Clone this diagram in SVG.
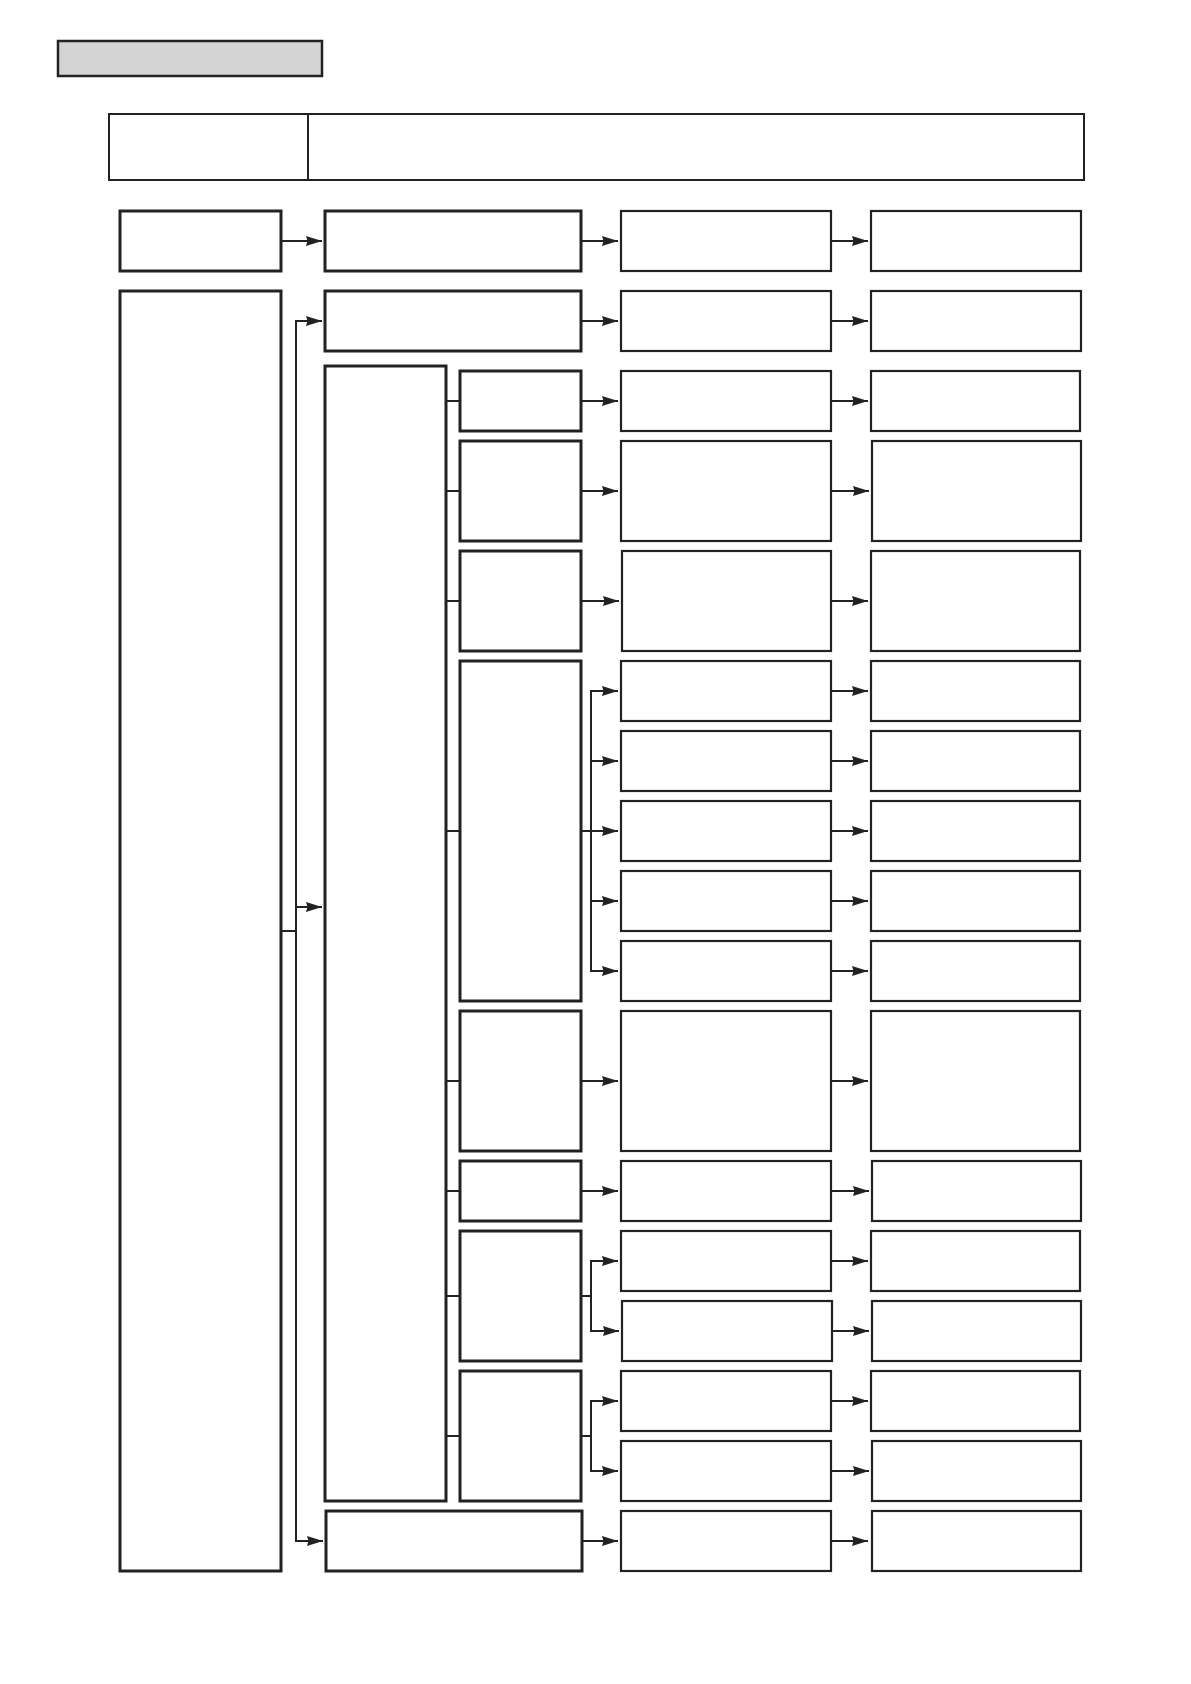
<svg xmlns="http://www.w3.org/2000/svg" width="1191" height="1684" viewBox="0 0 1191 1684">
<style>
.bg{fill:#ffffff}
.thick{fill:#ffffff;stroke:#222222;stroke-width:3}
.thin{fill:#ffffff;stroke:#222222;stroke-width:2.2}
.hdr{fill:#ffffff;stroke:#222222;stroke-width:2}
.tab{fill:#d4d4d4;stroke:#222222;stroke-width:2.5}
.ln{fill:none;stroke:#222222;stroke-width:2}
.ar{fill:none;stroke:#222222;stroke-width:2;marker-end:url(#ah)}
</style>
<defs>
<marker id="ah" markerUnits="userSpaceOnUse" markerWidth="17" markerHeight="11" refX="16" refY="5" orient="auto">
<path d="M0,0 L16,5 L0,10 L1.5,5 z" fill="#222222"/>
</marker>
</defs>
<rect class="bg" x="0" y="0" width="1191" height="1684"/>
<g id="title-tab"><rect class="tab" x="58" y="41" width="264" height="35"/></g>
<g id="header"><rect class="hdr" x="109" y="114" width="975" height="66"/><line class="ln" x1="308" y1="114" x2="308" y2="180"/></g>
<g id="a1"><rect class="thick" x="120" y="211" width="161" height="60"/></g>
<g id="a2"><rect class="thick" x="120" y="291" width="161" height="1280"/></g>
<g id="b1"><rect class="thick" x="325" y="211" width="256" height="60"/></g>
<g id="b2"><rect class="thick" x="325" y="291" width="256" height="60"/></g>
<g id="b3"><rect class="thick" x="325" y="366" width="121" height="1135"/></g>
<g id="b4"><rect class="thick" x="326" y="1511" width="256" height="60"/></g>
<g id="c1"><rect class="thick" x="460" y="371" width="121" height="60"/></g>
<g id="c2"><rect class="thick" x="460" y="441" width="121" height="100"/></g>
<g id="c3"><rect class="thick" x="460" y="551" width="121" height="100"/></g>
<g id="c4"><rect class="thick" x="460" y="661" width="121" height="340"/></g>
<g id="c5"><rect class="thick" x="460" y="1011" width="121" height="140"/></g>
<g id="c6"><rect class="thick" x="460" y="1161" width="121" height="60"/></g>
<g id="c7"><rect class="thick" x="460" y="1231" width="121" height="130"/></g>
<g id="c8"><rect class="thick" x="460" y="1371" width="121" height="130"/></g>
<g id="d1"><rect class="thin" x="621" y="211" width="210" height="60"/></g>
<g id="d2"><rect class="thin" x="621" y="291" width="210" height="60"/></g>
<g id="d3"><rect class="thin" x="621" y="371" width="210" height="60"/></g>
<g id="d4"><rect class="thin" x="621" y="441" width="210" height="100"/></g>
<g id="d5"><rect class="thin" x="622" y="551" width="209" height="100"/></g>
<g id="d6"><rect class="thin" x="621" y="661" width="210" height="60"/></g>
<g id="d7"><rect class="thin" x="621" y="731" width="210" height="60"/></g>
<g id="d8"><rect class="thin" x="621" y="801" width="210" height="60"/></g>
<g id="d9"><rect class="thin" x="621" y="871" width="210" height="60"/></g>
<g id="d10"><rect class="thin" x="621" y="941" width="210" height="60"/></g>
<g id="d11"><rect class="thin" x="621" y="1011" width="210" height="140"/></g>
<g id="d12"><rect class="thin" x="621" y="1161" width="210" height="60"/></g>
<g id="d13"><rect class="thin" x="621" y="1231" width="210" height="60"/></g>
<g id="d14"><rect class="thin" x="622" y="1301" width="210" height="60"/></g>
<g id="d15"><rect class="thin" x="621" y="1371" width="210" height="60"/></g>
<g id="d16"><rect class="thin" x="621" y="1441" width="210" height="60"/></g>
<g id="d17"><rect class="thin" x="621" y="1511" width="210" height="60"/></g>
<g id="e1"><rect class="thin" x="871" y="211" width="210" height="60"/></g>
<g id="e2"><rect class="thin" x="871" y="291" width="210" height="60"/></g>
<g id="e3"><rect class="thin" x="871" y="371" width="209" height="60"/></g>
<g id="e4"><rect class="thin" x="872" y="441" width="209" height="100"/></g>
<g id="e5"><rect class="thin" x="871" y="551" width="209" height="100"/></g>
<g id="e6"><rect class="thin" x="871" y="661" width="209" height="60"/></g>
<g id="e7"><rect class="thin" x="871" y="731" width="209" height="60"/></g>
<g id="e8"><rect class="thin" x="871" y="801" width="209" height="60"/></g>
<g id="e9"><rect class="thin" x="871" y="871" width="209" height="60"/></g>
<g id="e10"><rect class="thin" x="871" y="941" width="209" height="60"/></g>
<g id="e11"><rect class="thin" x="871" y="1011" width="209" height="140"/></g>
<g id="e12"><rect class="thin" x="872" y="1161" width="209" height="60"/></g>
<g id="e13"><rect class="thin" x="871" y="1231" width="209" height="60"/></g>
<g id="e14"><rect class="thin" x="872" y="1301" width="209" height="60"/></g>
<g id="e15"><rect class="thin" x="871" y="1371" width="209" height="60"/></g>
<g id="e16"><rect class="thin" x="872" y="1441" width="209" height="60"/></g>
<g id="e17"><rect class="thin" x="872" y="1511" width="209" height="60"/></g>
<g id="connectors">
<line class="ar" x1="282" y1="241" x2="322" y2="241"/>
<line class="ln" x1="282" y1="931" x2="296" y2="931"/>
<line class="ln" x1="296" y1="320" x2="296" y2="1542"/>
<line class="ar" x1="295" y1="321" x2="322" y2="321"/>
<line class="ar" x1="295" y1="907" x2="322" y2="907"/>
<line class="ar" x1="295" y1="1541" x2="323" y2="1541"/>
<line class="ln" x1="447" y1="401" x2="459" y2="401"/>
<line class="ln" x1="447" y1="491" x2="459" y2="491"/>
<line class="ln" x1="447" y1="601" x2="459" y2="601"/>
<line class="ln" x1="447" y1="831" x2="459" y2="831"/>
<line class="ln" x1="447" y1="1081" x2="459" y2="1081"/>
<line class="ln" x1="447" y1="1191" x2="459" y2="1191"/>
<line class="ln" x1="447" y1="1296" x2="459" y2="1296"/>
<line class="ln" x1="447" y1="1436" x2="459" y2="1436"/>
<line class="ar" x1="582" y1="241" x2="618" y2="241"/>
<line class="ar" x1="582" y1="321" x2="618" y2="321"/>
<line class="ar" x1="582" y1="401" x2="618" y2="401"/>
<line class="ar" x1="582" y1="491" x2="618" y2="491"/>
<line class="ar" x1="582" y1="601" x2="619" y2="601"/>
<line class="ar" x1="582" y1="1081" x2="618" y2="1081"/>
<line class="ar" x1="582" y1="1191" x2="618" y2="1191"/>
<line class="ar" x1="583" y1="1541" x2="618" y2="1541"/>
<line class="ln" x1="582" y1="831" x2="591" y2="831"/>
<line class="ln" x1="591" y1="690" x2="591" y2="972"/>
<line class="ar" x1="590" y1="691" x2="618" y2="691"/>
<line class="ar" x1="590" y1="761" x2="618" y2="761"/>
<line class="ar" x1="590" y1="831" x2="618" y2="831"/>
<line class="ar" x1="590" y1="901" x2="618" y2="901"/>
<line class="ar" x1="590" y1="971" x2="618" y2="971"/>
<line class="ln" x1="582" y1="1296" x2="591" y2="1296"/>
<line class="ln" x1="591" y1="1260" x2="591" y2="1332"/>
<line class="ar" x1="590" y1="1261" x2="618" y2="1261"/>
<line class="ar" x1="590" y1="1331" x2="619" y2="1331"/>
<line class="ln" x1="582" y1="1436" x2="591" y2="1436"/>
<line class="ln" x1="591" y1="1400" x2="591" y2="1472"/>
<line class="ar" x1="590" y1="1401" x2="618" y2="1401"/>
<line class="ar" x1="590" y1="1471" x2="618" y2="1471"/>
<line class="ar" x1="832" y1="241" x2="868" y2="241"/>
<line class="ar" x1="832" y1="321" x2="868" y2="321"/>
<line class="ar" x1="832" y1="401" x2="868" y2="401"/>
<line class="ar" x1="832" y1="491" x2="869" y2="491"/>
<line class="ar" x1="832" y1="601" x2="868" y2="601"/>
<line class="ar" x1="832" y1="691" x2="868" y2="691"/>
<line class="ar" x1="832" y1="761" x2="868" y2="761"/>
<line class="ar" x1="832" y1="831" x2="868" y2="831"/>
<line class="ar" x1="832" y1="901" x2="868" y2="901"/>
<line class="ar" x1="832" y1="971" x2="868" y2="971"/>
<line class="ar" x1="832" y1="1081" x2="868" y2="1081"/>
<line class="ar" x1="832" y1="1191" x2="869" y2="1191"/>
<line class="ar" x1="832" y1="1261" x2="868" y2="1261"/>
<line class="ar" x1="833" y1="1331" x2="869" y2="1331"/>
<line class="ar" x1="832" y1="1401" x2="868" y2="1401"/>
<line class="ar" x1="832" y1="1471" x2="869" y2="1471"/>
<line class="ar" x1="832" y1="1541" x2="868" y2="1541"/>
</g>
</svg>
